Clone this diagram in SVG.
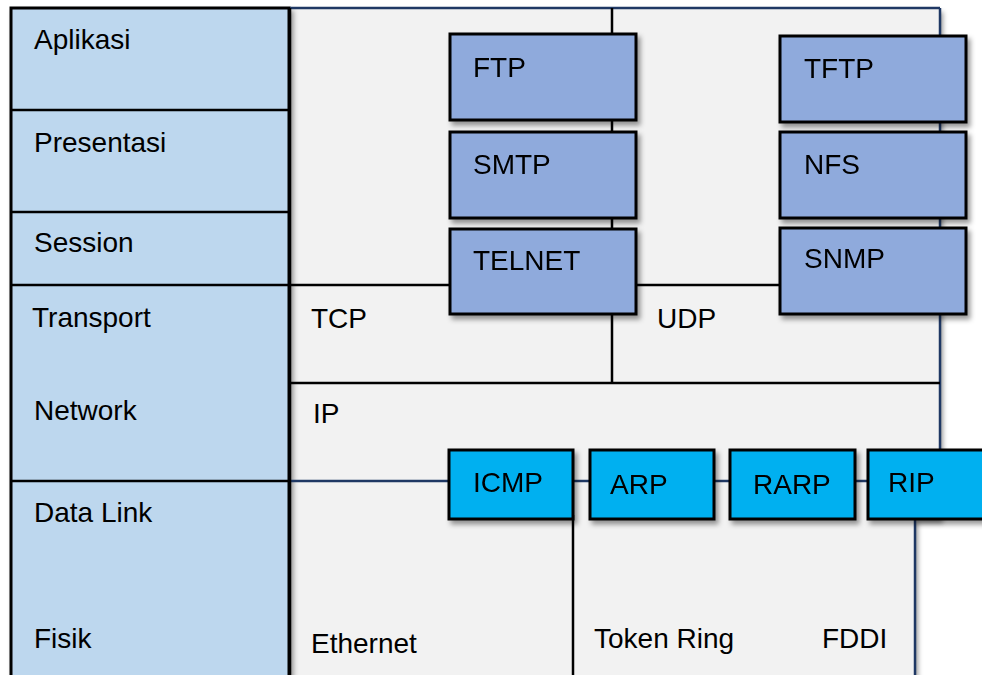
<svg xmlns="http://www.w3.org/2000/svg" width="982" height="675" viewBox="0 0 982 675">
<defs>
<filter id="sh" x="-10%" y="-10%" width="130%" height="140%">
<feDropShadow dx="3" dy="4" stdDeviation="2.5" flood-color="#000" flood-opacity="0.4"/>
</filter>
<style>
text{font-family:"Liberation Sans",Arial,sans-serif;font-size:28px;fill:#000}
.layer{fill:#BDD7EE;stroke:#000;stroke-width:3}
.app{fill:#8FAADC;stroke:#000;stroke-width:3}
.net{fill:#00B0F0;stroke:#000;stroke-width:3}
.ln{stroke:#000;stroke-width:2.5;fill:none}
.nv{stroke:#1F3864;stroke-width:2.5;fill:none}
</style>
</defs>
<rect width="982" height="675" fill="#fff"/>
<g id="background">
<path d="M290,8 H940 V519 H915 V675 H290 Z" fill="#F2F2F2" filter="url(#sh)"/>
</g>
<g id="osi-layers" filter="url(#sh)">
<rect class="layer" x="11" y="8" width="278" height="680"/>
</g>
<g id="connectors">
<line class="nv" x1="290" y1="8" x2="940" y2="8"/>
<line class="nv" x1="940" y1="8" x2="940" y2="455"/>
<line class="nv" x1="915" y1="515" x2="915" y2="675"/>
<line class="ln" x1="612" y1="8" x2="612" y2="383"/>
<line class="ln" x1="290" y1="285" x2="450" y2="285"/>
<line class="ln" x1="636" y1="285" x2="780" y2="285"/>
<line class="ln" x1="290" y1="383" x2="940" y2="383"/>
<line class="nv" x1="290" y1="481" x2="449" y2="481"/>
<line class="nv" x1="573" y1="481" x2="590" y2="481"/>
<line class="nv" x1="714" y1="481" x2="730" y2="481"/>
<line class="nv" x1="855" y1="481" x2="868" y2="481"/>
<line class="ln" x1="573" y1="515" x2="573" y2="675"/>
<line class="ln" x1="11" y1="110" x2="289" y2="110"/>
<line class="ln" x1="11" y1="212" x2="289" y2="212"/>
<line class="ln" x1="11" y1="285" x2="289" y2="285"/>
<line class="ln" x1="11" y1="481" x2="289" y2="481"/>
<line class="ln" x1="290" y1="8" x2="290" y2="675"/>
</g>
<g id="layer-labels">
<text x="34" y="49">Aplikasi</text>
<text x="34" y="152">Presentasi</text>
<text x="34" y="252">Session</text>
<text x="32" y="327">Transport</text>
<text x="34" y="420">Network</text>
<text x="34" y="522">Data Link</text>
<text x="34" y="648">Fisik</text>
</g>
<g id="region-labels">
<text x="311" y="328">TCP</text>
<text x="657" y="328">UDP</text>
<text x="313" y="423">IP</text>
<text x="311" y="653">Ethernet</text>
<text x="594" y="648">Token Ring</text>
<text x="822" y="648">FDDI</text>
</g>
<g id="ftp" filter="url(#sh)"><rect class="app" x="450" y="34" width="186" height="86"/><text x="473" y="77">FTP</text></g>
<g id="smtp" filter="url(#sh)"><rect class="app" x="450" y="132" width="186" height="86"/><text x="473" y="174">SMTP</text></g>
<g id="telnet" filter="url(#sh)"><rect class="app" x="450" y="229" width="186" height="85"/><text x="473" y="270">TELNET</text></g>
<g id="tftp" filter="url(#sh)"><rect class="app" x="780" y="36" width="186" height="86"/><text x="804" y="78">TFTP</text></g>
<g id="nfs" filter="url(#sh)"><rect class="app" x="780" y="132" width="186" height="86"/><text x="804" y="174">NFS</text></g>
<g id="snmp" filter="url(#sh)"><rect class="app" x="780" y="228" width="186" height="86"/><text x="804" y="268">SNMP</text></g>
<g id="icmp" filter="url(#sh)"><rect class="net" x="449" y="450" width="124" height="69"/><text x="473" y="492">ICMP</text></g>
<g id="arp" filter="url(#sh)"><rect class="net" x="590" y="450" width="124" height="69"/><text x="610" y="494">ARP</text></g>
<g id="rarp" filter="url(#sh)"><rect class="net" x="730" y="450" width="125" height="69"/><text x="753" y="494">RARP</text></g>
<g id="rip" filter="url(#sh)"><rect class="net" x="868" y="450" width="130" height="69"/><text x="888" y="492">RIP</text></g>
</svg>
